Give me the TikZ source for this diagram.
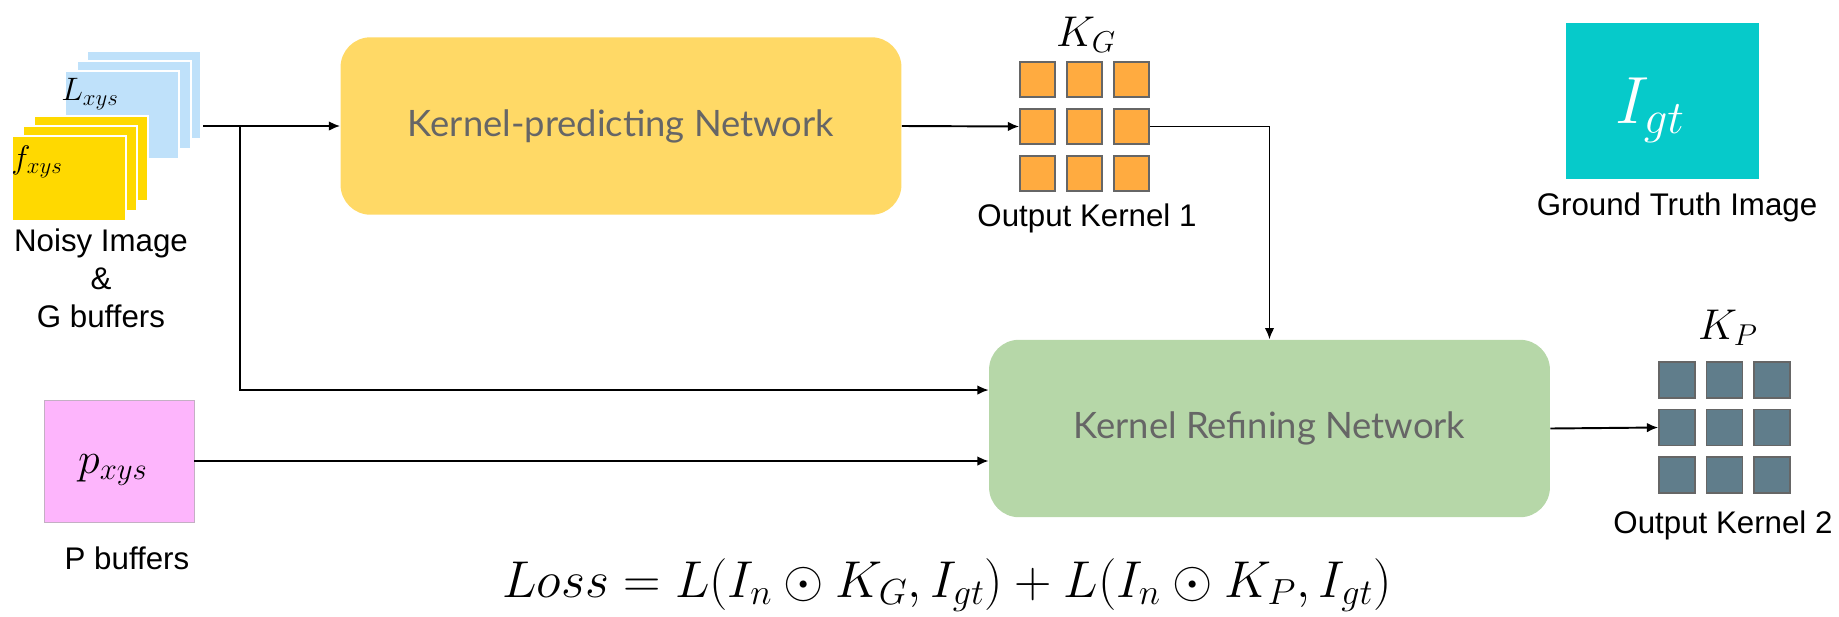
\RequirePackage{fix-cm}
\documentclass[tikz,border=0pt]{standalone}
\usepackage[no-math]{fontspec}
\setmainfont{Liberation Sans}
\newfontfamily\netfont{Lato}
\usetikzlibrary{positioning,arrows.meta,calc}
\definecolor{sheetBlue}{HTML}{BFE1FA}
\definecolor{sheetYellow}{HTML}{FFD900}
\definecolor{kpnYellow}{HTML}{FFD966}
\definecolor{krnGreen}{HTML}{B6D7A8}
\definecolor{pbufPink}{HTML}{FDB5FC}
\definecolor{pinkEdge}{HTML}{C4AFC4}
\definecolor{gtTeal}{HTML}{06CACA}
\definecolor{kgOrange}{HTML}{FFAB40}
\definecolor{kpSlate}{HTML}{607D8B}
\definecolor{cellEdge}{HTML}{666666}
\definecolor{netText}{HTML}{666666}

\tikzset{
  netBox/.style={rounded corners=0.6cm,minimum width=11.22cm,minimum height=3.55cm,text=netText,
                 font=\netfont\fontsize{20.7}{25}\selectfont},
  kernCell/.style={draw=cellEdge,line width=0.9pt,minimum size=0.7cm,inner sep=0pt},
  capLabel/.style={font=\fontsize{17.8}{21.6}\selectfont,align=center},
  flow/.style={line width=1.1pt,-{Latex[length=6.5pt,width=5.5pt]}},
}

\begin{document}
\begin{tikzpicture}[x=0.02cm,y=-0.02cm]
\useasboundingbox (0,0) rectangle (1839,616);

% stacked input buffers
\foreach \dx/\dy in {87/51,77/61,65/71}
  \draw[white,line width=1.2pt,fill=sheetBlue] (\dx,\dy) rectangle ++(114,88);
\foreach \dx/\dy in {34/116,23/126,12/136}
  \draw[white,line width=1.2pt,fill=sheetYellow] (\dx,\dy) rectangle ++(114,85);
\node (lLbl) at (90,94) {\fontsize{18.5}{18}\selectfont$L_{xys}$};
\node (fLbl) at (37,162) {\fontsize{18.5}{18}\selectfont$f_{xys}$};
\node[capLabel] (noisyCap) at (101,278) {Noisy Image\\\&\\G buffers};
\coordinate (stackOut) at (203,126);
\coordinate (split) at (240,126);

\node[draw=pinkEdge,fill=pbufPink,minimum width=3cm,minimum height=2.44cm,inner sep=0pt] (pbuf) at (119,461) {};
\node (pLbl) at (113,470) {\fontsize{25}{25}\selectfont$p_{xys}$};
\node[capLabel,anchor=base] (pbufCap) at (127,569) {P buffers};

% networks
\node[netBox,fill=kpnYellow] (kpn) at (621,126) {Kernel-predicting Network};
\node[netBox,fill=krnGreen] (krn) at (1269.5,428.5) {Kernel Refining Network};

% kernels
\foreach \r in {1,2,3}
  \foreach \c in {1,2,3} {
    \node[kernCell,fill=kgOrange] (kg-\r-\c) at ({1037.5+47*(\c-1)},{79.5+47*(\r-1)}) {};
    \node[kernCell,fill=kpSlate,minimum size=0.72cm] (kp-\r-\c) at ({1677+47.5*(\c-1)},{380+47.5*(\r-1)}) {};
  }
\node (kgLbl) at (1086,35) {\fontsize{24.5}{24}\selectfont$K_G$};
\node (kpLbl) at (1728,328) {\fontsize{24.5}{24}\selectfont$K_P$};
\node[capLabel,anchor=base] (kgCap) at (1087,226) {Output Kernel 1};
\node[capLabel,anchor=base] (kpCap) at (1723,533) {Output Kernel 2};

% ground truth
\node[fill=gtTeal,minimum width=3.86cm,minimum height=3.12cm] (gt) at (1662.5,101) {};
\node[text=white] (gtLbl) at (1650,110) {\fontsize{38}{38}\selectfont$I_{gt}$};
\node[capLabel,anchor=base] (gtCap) at (1677,215) {Ground Truth Image};

\node (loss) at (947,585)
  {\fontsize{29.5}{30}\selectfont$Loss = L(I_n \odot K_G, I_{gt}) + L\bigl(I_n \odot K_P, I_{gt}\bigr)$};

% connections
\draw[flow] (stackOut) -- (stackOut -| kpn.west);
\draw[flow] (split) |- ([yshift=0.77cm]krn.west);
\draw[flow] (pbuf.east) -- (pbuf.east -| krn.west);
\draw[flow] (kpn.east) -- (kg-2-1.west);
\draw[flow] (kg-2-3.east) -| (krn.north);
\draw[flow] (krn.east) -- (kp-2-1.west);
\end{tikzpicture}
\end{document}
